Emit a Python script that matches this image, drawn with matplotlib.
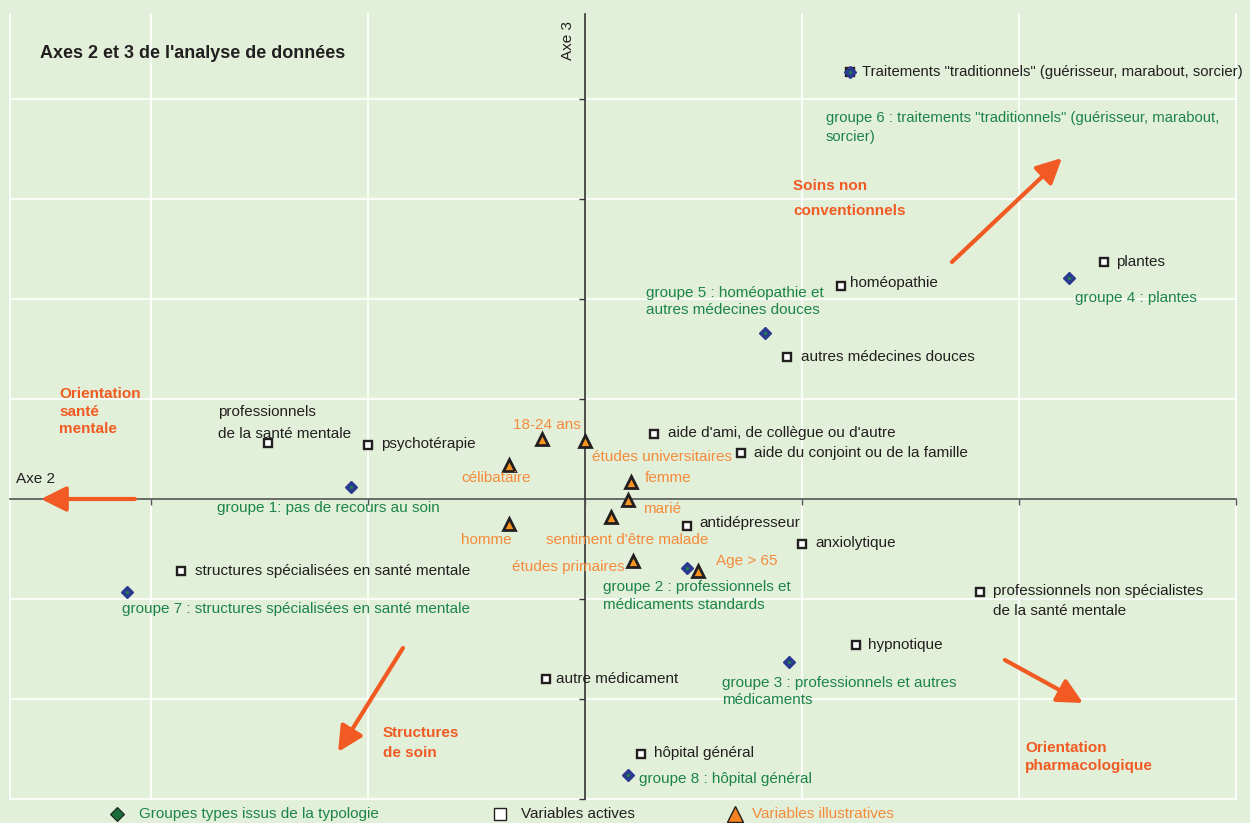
import matplotlib
matplotlib.use("Agg")
import matplotlib.pyplot as plt

plt.rcParams["font.family"] = ["Liberation Sans", "DejaVu Sans"]

BG = "#E2F0D9"
DARK = "#231F20"
GREEN = "#1C8447"
ORANGE = "#F58A3A"
RED_OR = "#F15A22"

# groupes types (diamants)
grp_labels = ["groupe 1: pas de recours au soin",
              "groupe 2 : professionnels et\nmédicaments standards",
              "groupe 3 : professionnels et autres\nmédicaments",
              "groupe 4 : plantes",
              "groupe 5 : homéopathie et\nautres médecines douces",
              "groupe 6 : traitements \"traditionnels\" (guérisseur, marabout,\nsorcier)",
              "groupe 7 : structures spécialisées en santé mentale",
              "groupe 8 : hôpital général"]
grp_x = [-1.08, 0.47, 0.94, 2.23, 0.83, 1.22, -2.11, 0.20]
grp_y = [0.12, -0.69, -1.63, 2.21, 1.66, 4.27, -0.93, -2.76]

# variables actives (carrés)
act_labels = ["professionnels\nde la santé mentale", "psychotérapie",
              "structures spécialisées en santé mentale",
              "aide d'ami, de collègue ou d'autre",
              "aide du conjoint ou de la famille", "antidépresseur",
              "anxiolytique", "professionnels non spécialistes\nde la santé mentale",
              "hypnotique", "autre médicament", "hôpital général", "homéopathie",
              "autres médecines douces", "plantes",
              "Traitements \"traditionnels\" (guérisseur, marabout, sorcier)"]
act_x = [-1.46, -1.00, -1.86, 0.32, 0.72, 0.47, 1.00, 1.82, 1.25, -0.18, 0.26,
         1.18, 0.93, 2.39, 1.22]
act_y = [0.56, 0.54, -0.72, 0.65, 0.46, -0.27, -0.45, -0.93, -1.46, -1.80, -2.55,
         2.13, 1.42, 2.37, 4.27]

# variables illustratives (triangles)
ill_labels = ["18-24 ans", "études universitaires", "célibataire", "femme", "marié",
              "sentiment d'être malade", "homme", "études primaires", "Age > 65"]
ill_x = [-0.20, 0.00, -0.35, 0.21, 0.20, 0.12, -0.35, 0.22, 0.52]
ill_y = [0.60, 0.58, 0.34, 0.17, -0.01, -0.18, -0.25, -0.62, -0.72]

# label offsets in pixels (dx to left edge, dy down to first line centre, line gap)
grp_off = [(-134, 21, 0), (-84, 19, 18), (-67, 21, 17), (6, 20, 0), (-119, -40, 17),
           (-24, 46, 19), (-5, 17, 0), (11, 4, 0)]
act_off = [(-50, -31, 21.5), (13, -1, 0), (14, 0, 0), (14, -1, 0), (13, 0, 0),
           (12, -3, 0), (13, -1, 0), (13, -1, 20), (12, 0, 0), (10, 0, 0),
           (13, -1, 0), (9, -3, 0), (14, 0, 0), (12, 0, 0), (12, 0, 0)]
ill_off = [(-29, -14, 0), (7, 16, 0), (-48, 13, 0), (14, -4, 0), (15, 9, 0),
           (-65, 23, 0), (-48, 16, 0), (-121, 6, 0), (18, -10, 0)]

fig = plt.figure(figsize=(12.5, 8.23), dpi=100, facecolor=BG)
ax = fig.add_axes([0, 0, 1, 1])
ax.set_facecolor(BG)
ax.set_xlim(-585 / 217, 665 / 217)
ax.set_ylim(-3.24, 4.99)
ax.axis("off")

x0, x1, y0, y1 = -2.65, 3.0, -3.0, 4.85
# grille blanche
for gx in [x0, -2, -1, 1, 2, 3]:
    ax.plot([gx, gx], [y0, y1], color="white", lw=1.2, zorder=1)
for gy in [-3, -2, -1, 1, 2, 3, 4]:
    ax.plot([x0, x1], [gy, gy], color="white", lw=1.2, zorder=1)

# axes
ax.plot([x0, x1], [0, 0], color="#555555", lw=1.2, zorder=2)
ax.plot([0, 0], [y0, y1], color="#333333", lw=1.2, zorder=2)
ax.plot([-2, -1, 0, 1, 2, 3], [0] * 6, ls="none", marker=3, ms=4, mew=1,
        color="#555555", zorder=2)
ax.plot([0] * 7, [-3, -2, -1, 1, 2, 3, 4], ls="none", marker=0, ms=4, mew=1,
        color="#333333", zorder=2)


def put_labels(xs, ys, labels, offs, color, size=11):
    for x, y, lab, (dx, dy, gap) in zip(xs, ys, labels, offs):
        fs = size if len(lab) < 55 else size - 0.3
        for i, line in enumerate(lab.split("\n")):
            ax.annotate(line, (x, y), xytext=(dx * 0.72, -(dy + i * gap) * 0.72),
                        textcoords="offset points", ha="left", va="center",
                        fontsize=fs, color=color, zorder=6)


# marqueurs
ax.plot(act_x, act_y, ls="none", marker="s", ms=5.5, mfc="white", mec=DARK,
        mew=1.7, zorder=3)
ax.plot(ill_x, ill_y, ls="none", marker="^", ms=9, mfc="#F7941D", mec=DARK,
        mew=2, zorder=3)
ax.plot(grp_x, grp_y, ls="none", marker="D", ms=6.5, mfc="#2B3990", mec="#2B3990",
        zorder=4)
ax.plot(grp_x, grp_y, ls="none", marker="o", ms=2.3, mfc=GREEN, mec="none", zorder=5)

put_labels(act_x, act_y, act_labels, act_off, DARK)
put_labels(grp_x, grp_y, grp_labels, grp_off, GREEN)
put_labels(ill_x, ill_y, ill_labels, ill_off, ORANGE)

# titres et axes
ax.text(-2.51, 4.46, "Axes 2 et 3 de l'analyse de données", fontsize=13,
        fontweight="bold", color=DARK, ha="left", va="center")
ax.text(-2.62, 0.20, "Axe 2", fontsize=11, color=DARK, ha="left", va="center")
ax.text(-0.078, 4.58, "Axe 3", fontsize=11, color=DARK, ha="center", va="center",
        rotation=90)

# annotations orange
notes = [("Orientation\nsanté\nmentale", -2.424, 1.05, 0.175),
         ("Soins non\nconventionnels", 0.959, 3.13, 0.25),
         ("Structures\nde soin", -0.931, -2.34, 0.20),
         ("Orientation\npharmacologique", 2.028, -2.49, 0.18)]
for txt, nx, ny, gap in notes:
    for i, line in enumerate(txt.split("\n")):
        ax.text(nx, ny - i * gap, line, fontsize=11, fontweight="bold",
                color=RED_OR, ha="left", va="center")

arrows = [((-2.074, 0.0), (-2.507, 0.0)),
          ((1.691, 2.37), (2.198, 3.41)),
          ((-0.839, -1.49), (-1.138, -2.53)),
          ((1.935, -1.61), (2.295, -2.04))]
for tail, tip in arrows:
    ax.annotate("", xy=tip, xytext=tail,
                arrowprops=dict(arrowstyle="-|>,head_length=0.4,head_width=0.2",
                                mutation_scale=38, lw=3, color=RED_OR,
                                shrinkA=0, shrinkB=0), zorder=5)

# légende
ly = -3.15
ax.plot([(117 - 585) / 217], [ly], marker="D", ms=7, mfc="#1A6E3C", mec=DARK,
        mew=0.8, ls="none", clip_on=False)
ax.text((139 - 585) / 217, ly, "Groupes types issus de la typologie", fontsize=11,
        color=GREEN, ha="left", va="center")
ax.plot([(500 - 585) / 217], [ly], marker="s", ms=9, mfc="white", mec=DARK,
        mew=1, ls="none", clip_on=False)
ax.text((521 - 585) / 217, ly, "Variables actives", fontsize=11, color=DARK,
        ha="left", va="center")
ax.plot([(735 - 585) / 217], [ly], marker="^", ms=11, mfc="#F58220", mec=DARK,
        mew=1, ls="none", clip_on=False)
ax.text((752 - 585) / 217, ly, "Variables illustratives", fontsize=11, color=ORANGE,
        ha="left", va="center")

fig.savefig("out.png", dpi=100, facecolor=BG)
